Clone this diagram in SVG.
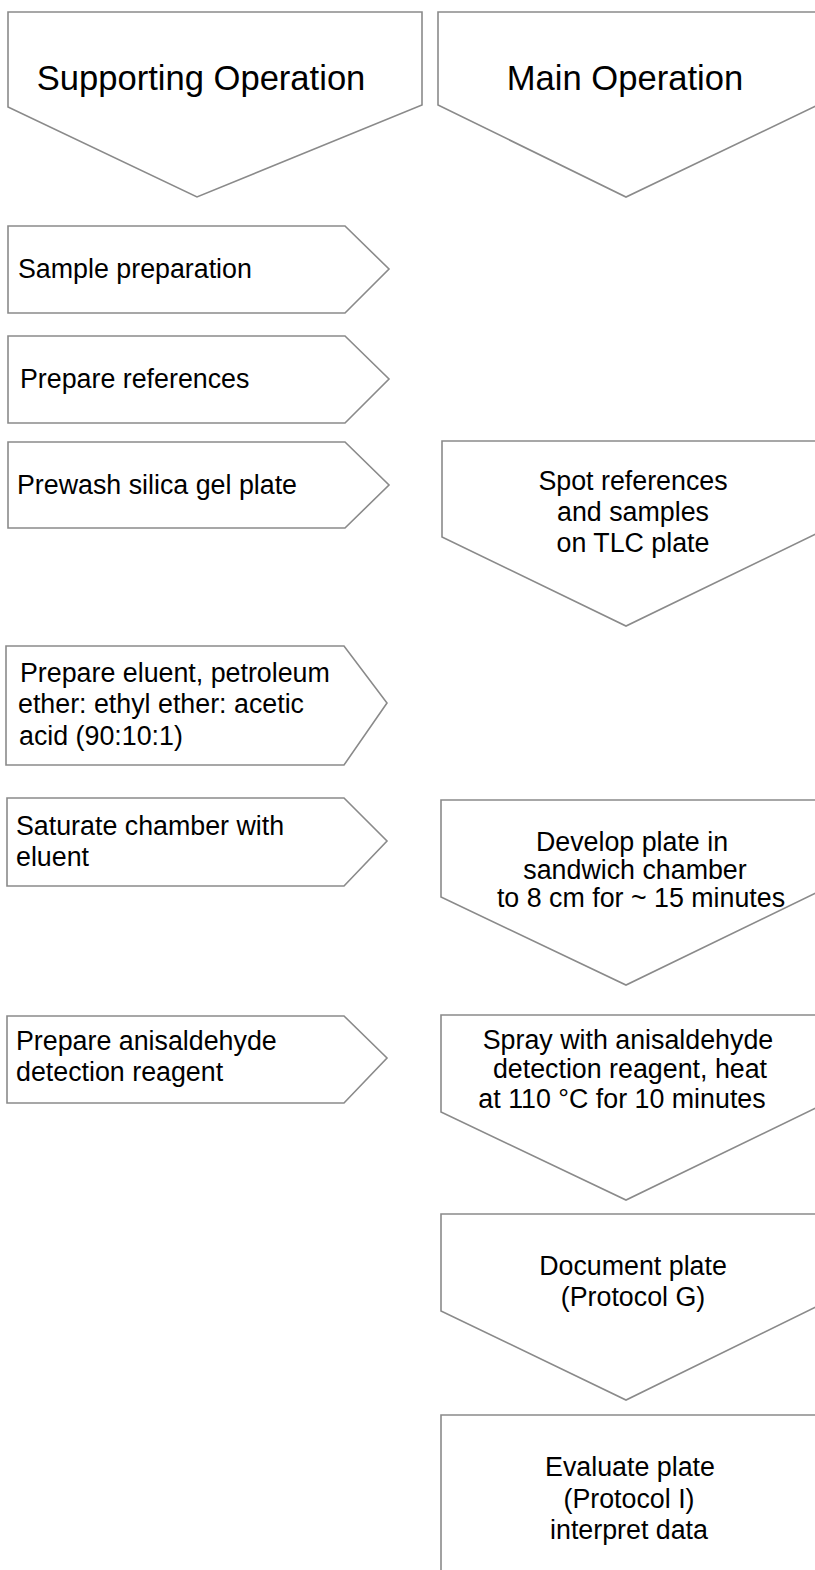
<svg xmlns="http://www.w3.org/2000/svg" width="815" height="1570" viewBox="0 0 815 1570">
<style>
.s{fill:#fff;stroke:#8a8a8a;stroke-width:1.6;stroke-linejoin:miter}
.t{font-family:"Liberation Sans",Arial,sans-serif;font-size:26.8px;fill:#000}
.h{font-family:"Liberation Sans",Arial,sans-serif;font-size:34.6px;fill:#000}
.c{text-anchor:middle}
</style>
<rect width="815" height="1570" fill="#fff"/>
<g id="hdr-supporting">
<path class="s" d="M8,12 L422,12 L422,105 L197,197 L8,107 Z"/>
<text class="h c" x="201" y="90">Supporting Operation</text>
</g>
<g id="hdr-main">
<path class="s" d="M438,12 L818,12 L818,105 L626,197 L438,105 Z"/>
<text class="h c" x="625" y="90">Main Operation</text>
</g>
<g id="s1">
<path class="s" d="M8,226 L345,226 L389,269 L345,313 L8,313 Z"/>
<text class="t" x="18" y="278">Sample preparation</text>
</g>
<g id="s2">
<path class="s" d="M8,336 L345,336 L389,379 L345,423 L8,423 Z"/>
<text class="t" x="20" y="388">Prepare references</text>
</g>
<g id="s3">
<path class="s" d="M8,442 L345,442 L389,485 L345,528 L8,528 Z"/>
<text class="t" x="17" y="494">Prewash silica gel plate</text>
</g>
<g id="s4">
<path class="s" d="M6,646 L344,646 L387,703 L344,765 L6,765 Z"/>
<text class="t" x="20" y="682">Prepare eluent, petroleum</text>
<text class="t" x="18" y="713">ether: ethyl ether: acetic</text>
<text class="t" x="19" y="745">acid (90:10:1)</text>
</g>
<g id="s5">
<path class="s" d="M7,798 L344,798 L387,841 L344,886 L7,886 Z"/>
<text class="t" x="16" y="835">Saturate chamber with</text>
<text class="t" x="16" y="866">eluent</text>
</g>
<g id="s6">
<path class="s" d="M7,1016 L344,1016 L387,1058 L344,1103 L7,1103 Z"/>
<text class="t" x="16" y="1050">Prepare anisaldehyde</text>
<text class="t" x="16" y="1081">detection reagent</text>
</g>
<g id="m1">
<path class="s" d="M442,441 L818,441 L818,533 L626,626 L442,537 Z"/>
<text class="t c" x="633" y="490">Spot references</text>
<text class="t c" x="633" y="521">and samples</text>
<text class="t c" x="633" y="552">on TLC plate</text>
</g>
<g id="m2">
<path class="s" d="M441,800 L818,800 L818,892 L626,985 L441,897 Z"/>
<text class="t c" x="632" y="851">Develop plate in</text>
<text class="t c" x="635" y="879">sandwich chamber</text>
<text class="t c" x="641" y="907">to 8 cm for ~ 15 minutes</text>
</g>
<g id="m3">
<path class="s" d="M441,1015 L818,1015 L818,1107 L626,1200 L441,1112 Z"/>
<text class="t c" x="628" y="1049">Spray with anisaldehyde</text>
<text class="t c" x="630" y="1078">detection reagent, heat</text>
<text class="t c" x="622" y="1108">at 110 °C for 10 minutes</text>
</g>
<g id="m4">
<path class="s" d="M441,1214 L818,1214 L818,1306 L626,1400 L441,1311 Z"/>
<text class="t c" x="633" y="1275">Document plate</text>
<text class="t c" x="633" y="1306">(Protocol G)</text>
</g>
<g id="m5">
<path class="s" d="M441,1580 L441,1415 L818,1415 L818,1580"/>
<text class="t c" x="630" y="1476">Evaluate plate</text>
<text class="t c" x="629" y="1508">(Protocol I)</text>
<text class="t c" x="629" y="1539">interpret data</text>
</g>
<g id="connectors"></g>
</svg>
